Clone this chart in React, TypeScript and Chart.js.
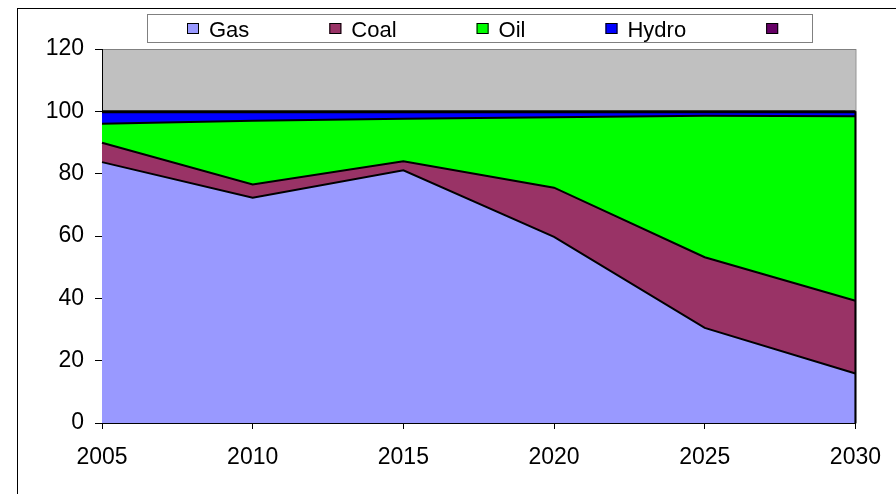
import React, { useEffect, useRef } from "react";
import { Chart, registerables } from "chart.js";

Chart.register(...registerables);

const years = ["2005", "2010", "2015", "2020", "2025", "2030"];
const seriesNames = ["Gas", "Coal", "Oil", "Hydro", ""];
const gas = [83.7, 72.3, 81.1, 59.7, 30.5, 15.9];
const coal = [6.2, 4.2, 2.9, 15.8, 22.7, 23.3];
const oil = [6.1, 20.5, 13.6, 22.6, 45.4, 59.2];
const hydro = [3.7, 2.7, 2.1, 1.6, 1.1, 1.3];
const other = [0.3, 0.3, 0.3, 0.3, 0.3, 0.3];
const colors = ["#9999FF", "#993366", "#00FF00", "#0000FF", "#660066"];
const yMin = 0;
const yMax = 120;
const yStep = 20;

const FONT = "'Liberation Sans', Arial, sans-serif";

const decorPlugin = {
  id: "decor",
  beforeDraw(chart: any) {
    const { ctx, chartArea } = chart;
    ctx.save();
    // outer border
    ctx.strokeStyle = "#000";
    ctx.lineWidth = 1;
    ctx.strokeRect(17.5, 8.5, 2000, 2000);
    // plot background
    ctx.fillStyle = "#C0C0C0";
    ctx.fillRect(chartArea.left, chartArea.top, chartArea.right - chartArea.left, chartArea.bottom - chartArea.top);
    ctx.strokeStyle = "#808080";
    ctx.strokeRect(chartArea.left + 0.5, chartArea.top + 0.5, chartArea.right - chartArea.left, chartArea.bottom - chartArea.top);
    // legend box
    ctx.fillStyle = "#fff";
    ctx.fillRect(147, 14, 665, 28);
    ctx.strokeStyle = "#808080";
    ctx.strokeRect(147.5, 14.5, 665, 28);
    ctx.font = `22px ${FONT}`;
    ctx.textBaseline = "alphabetic";
    ctx.textAlign = "left";
    let x = 187;
    chart.data.datasets.forEach((ds: any, i: number) => {
      ctx.fillStyle = ds.backgroundColor;
      ctx.fillRect(x, 23, 12, 11);
      ctx.strokeStyle = "#000";
      ctx.strokeRect(x + 0.5, 23.5, 11, 10);
      ctx.fillStyle = "#000";
      const label = ds.label || "";
      ctx.fillText(label, x + 22, 36.5);
      x += 22 + ctx.measureText(label).width + 80;
    });
    ctx.restore();
  },
  afterDatasetsDraw(chart: any) {
    const { ctx, chartArea, scales } = chart;
    const last = chart.data.labels.length - 1;
    let total = 0;
    chart.data.datasets.forEach((ds: any) => (total += ds.data[last]));
    ctx.save();
    ctx.strokeStyle = "#000";
    ctx.lineWidth = 2;
    ctx.beginPath();
    ctx.moveTo(chartArea.right, scales.y.getPixelForValue(0));
    ctx.lineTo(chartArea.right, scales.y.getPixelForValue(total));
    ctx.stroke();
    ctx.restore();
  },
};

export default function App() {
  const ref = useRef<HTMLCanvasElement>(null);
  useEffect(() => {
    document.body.style.margin = "0";
    const series = [gas, coal, oil, hydro, other];
    const chart = new Chart(ref.current as HTMLCanvasElement, {
      type: "line",
      data: {
        labels: years,
        datasets: series.map((d, i) => ({
          label: seriesNames[i],
          data: d,
          backgroundColor: colors[i],
          borderColor: "#000",
          borderWidth: 2,
          pointRadius: 0,
          tension: 0,
          fill: i === 0 ? "origin" : "-1",
        })),
      },
      options: {
        responsive: false,
        animation: false,
        events: [],
        layout: { padding: { top: 49, right: 37, left: 0, bottom: 0 } },
        plugins: { legend: { display: false }, tooltip: { enabled: false } },
        scales: {
          x: {
            type: "category",
            offset: false,
            grid: { drawOnChartArea: false, drawTicks: true, tickLength: 6, color: "#000" },
            border: { color: "#000", width: 1 },
            ticks: { color: "#000", font: { family: FONT, size: 23 }, padding: 15, maxRotation: 0, autoSkip: false },
            afterFit: (s: any) => {
              s.height = 71;
            },
          },
          y: {
            stacked: true,
            min: yMin,
            max: yMax,
            grid: { drawOnChartArea: false, drawTicks: true, tickLength: 7, color: "#000" },
            border: { color: "#000", width: 1 },
            ticks: { stepSize: yStep, color: "#000", font: { family: FONT, size: 23 }, padding: 11 },
            afterFit: (s: any) => {
              s.width = 102;
            },
          },
        },
      },
      plugins: [decorPlugin],
    });
    return () => chart.destroy();
  }, []);
  return (
    <div style={{ position: "fixed", left: 0, top: 0, width: 896, height: 494 }}>
      <canvas ref={ref} width={896} height={494} />
    </div>
  );
}
